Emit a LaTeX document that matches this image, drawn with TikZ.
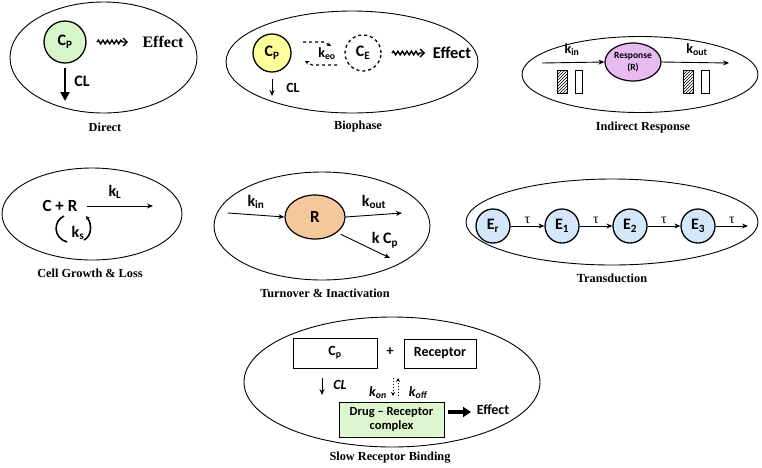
\documentclass[tikz,border=0pt]{standalone}
\usepackage{fontspec}
\setmainfont{Liberation Serif}
\newfontfamily\carl[Ligatures=TeX]{Carlito}
\usetikzlibrary{shapes.geometric,arrows.meta,decorations.pathmorphing,patterns}
\definecolor{dgreen}{RGB}{215,245,200}
\definecolor{byellow}{RGB}{255,255,153}
\definecolor{rviolet}{RGB}{232,186,242}
\definecolor{rtan}{RGB}{245,200,155}
\definecolor{eblue}{RGB}{212,230,250}
\definecolor{cgreen}{RGB}{222,246,208}
\begin{document}
\begin{tikzpicture}[x=1pt,y=-1pt,
  frame/.style={draw, ellipse, line width=0.9pt, inner sep=0pt},
  captxt/.style={font=\bfseries\fontsize{12.3}{14}\selectfont},
  lbl/.style={font=\carl\bfseries\fontsize{14}{16}\selectfont, inner sep=1pt},
  biglbl/.style={font=\carl\bfseries\fontsize{16}{18}\selectfont, inner sep=1pt},
  arr/.style={-{Stealth[length=6pt,width=5pt]}, line width=0.9pt},
  bigarr/.style={-{Triangle[length=9pt,width=9pt]}, line width=2.4pt},
  wavy/.style={-{Straight Barb[length=4pt,width=8pt]}, line width=1.4pt, decorate,
     decoration={snake, amplitude=1.8pt, segment length=4.5pt, post length=5pt}},
  ring/.style={circle, draw, line width=1.3pt, inner sep=0pt},
  bx/.style={draw, line width=0.9pt, inner sep=0pt},
  hatch/.style={draw, line width=0.8pt, pattern=north east lines},
]
\useasboundingbox (0,0) rectangle (762,467);

% ---------------- Direct
\node[frame, minimum width=187pt, minimum height=111pt] (dE) at (103.5,57.5) {};
\node[ring, fill=dgreen, minimum size=42pt, biglbl] (dCp) at (65,42) {C\textsubscript{P}};
\node[font=\bfseries\fontsize{16}{18}\selectfont] (dEff) at (163,42) {Effect};
\coordinate (dw1) at (97,42);
\coordinate (dw2) at (128,42);
\draw[wavy] (dw1) -- (dw2);
\coordinate (dcl) at (65,101);
\draw[bigarr] ([yshift=-4pt]dCp.south) -- (dcl);
\node[biglbl] (dCL) at (82,81) {CL};
\node[captxt] (dcap) at (105,127) {Direct};

% ---------------- Biophase
\node[frame, minimum width=252pt, minimum height=102pt] (bE) at (352,62) {};
\node[ring, fill=byellow, minimum size=38pt, biglbl] (bCp) at (272,53) {C\textsubscript{P}};
\node[circle, draw, dashed, line width=1.3pt, minimum size=36pt, inner sep=0pt, biglbl] (bCe) at (363,53) {C\textsubscript{E}};
\node[lbl] (bk) at (327,54) {k\textsubscript{eo}};
\coordinate (bt1) at (303,42);
\coordinate (bt2) at (324,42);
\coordinate (bt3) at (331,46);
\coordinate (bb1) at (337,65);
\coordinate (bb2) at (312,65);
\coordinate (bb3) at (305,61);
\draw[dashed, line width=1.1pt, -{Stealth[length=4pt,width=4pt]}] (bt1) -- (bt2) -- (bt3);
\draw[dashed, line width=1.1pt, -{Stealth[length=4pt,width=4pt]}] (bb1) -- (bb2) -- (bb3);
\coordinate (bw1) at (392,53);
\coordinate (bw2) at (425,53);
\draw[wavy] (bw1) -- (bw2);
\node[font=\carl\bfseries\fontsize{16.5}{18}\selectfont] (bEff) at (452,53) {Effect};
\coordinate (bc1) at (272,79);
\coordinate (bc2) at (272,96);
\draw[arr] (bc1) -- (bc2);
\node[lbl] (bCL) at (293,88) {CL};
\node[captxt] (bcap) at (358,127) {Biophase};

% ---------------- Indirect Response
\node[frame, minimum width=236pt, minimum height=76pt] (iE) at (640,74.5) {};
\node[ellipse, draw, line width=1.2pt, fill=rviolet, minimum width=56pt, minimum height=38pt, inner sep=0pt,
      font=\carl\bfseries\fontsize{9.5}{11.5}\selectfont, align=center] (iR) at (633,62) {Response\\(R)};
\coordinate (ia) at (542,63);
\coordinate (ib) at (729,63);
\draw[arr] (ia) -- (iR.west);
\draw[arr] (iR.east) -- (ib);
\node[lbl] (ikin) at (572,50) {k\textsubscript{in}};
\node[lbl] (ikout) at (697,50) {k\textsubscript{out}};
\draw[hatch] (557,70) rectangle (567,93);
\draw[bx] (575,70) rectangle (582,93);
\draw[hatch] (683,70) rectangle (693,93);
\draw[bx] (701,70) rectangle (709,93);
\node[captxt] (icap) at (643,128) {Indirect Response};

% ---------------- Cell Growth & Loss
\node[frame, minimum width=180pt, minimum height=92pt] (cE) at (92,214) {};
\node[font=\carl\bfseries\fontsize{17}{19}\selectfont, inner sep=1pt] (cCR) at (60,206) {C + R};
\coordinate (ckl) at (153,206);
\draw[arr] ([xshift=8pt]cCR.east) -- (ckl);
\node[biglbl] (ckL) at (115,192) {k\textsubscript{L}};
\node[biglbl] (cks) at (78,233) {k\textsubscript{s}};
\draw[line width=1.6pt] (64,216) .. controls (53,221) and (53,238) .. (67,242);
\draw[line width=1.6pt, -{Stealth[length=4pt,width=4pt]}] (84,240) .. controls (92,236) and (92,224) .. (86,216);
\node[captxt] (ccap) at (90,273) {Cell Growth \& Loss};

% ---------------- Turnover & Inactivation
\node[frame, minimum width=216pt, minimum height=108pt] (tE) at (322,226) {};
\node[ellipse, draw, line width=1.2pt, fill=rtan, minimum width=60pt, minimum height=44pt, inner sep=0pt,
      font=\carl\bfseries\fontsize{17}{19}\selectfont] (tR) at (315,217) {R};
\coordinate (ta) at (228,213);
\coordinate (tb) at (402,213);
\coordinate (tc) at (390,258);
\draw[arr] (ta) -- (tR.west);
\draw[arr] (tR.east) -- (tb);
\draw[arr, shorten <=4pt] (tR.-35) -- (tc);
\node[biglbl] (tkin) at (256,202) {k\textsubscript{in}};
\node[biglbl] (tkout) at (374,202) {k\textsubscript{out}};
\node[biglbl] (tkcp) at (385,240) {k C\textsubscript{p}};
\node[captxt] (tcap) at (325,293) {Turnover \& Inactivation};

% ---------------- Transduction
\node[frame, minimum width=292pt, minimum height=86pt] (xE) at (612,222) {};
\node[ring, fill=eblue, minimum size=34pt, biglbl] (xEr) at (493,226) {E\textsubscript{r}};
\node[ring, fill=eblue, minimum size=34pt, biglbl] (xE1) at (562,226) {E\textsubscript{1}};
\node[ring, fill=eblue, minimum size=34pt, biglbl] (xE2) at (630,226) {E\textsubscript{2}};
\node[ring, fill=eblue, minimum size=34pt, biglbl] (xE3) at (698,226) {E\textsubscript{3}};
\coordinate (xend) at (748,226);
\draw[arr] (xEr) -- node[above=-1pt, font=\fontsize{14}{16}\selectfont] {τ} (xE1);
\draw[arr] (xE1) -- node[above=-1pt, font=\fontsize{14}{16}\selectfont] {τ} (xE2);
\draw[arr] (xE2) -- node[above=-1pt, font=\fontsize{14}{16}\selectfont] {τ} (xE3);
\draw[arr] (xE3) -- node[above=-1pt, font=\fontsize{14}{16}\selectfont] {τ} (xend);
\node[captxt] (xcap) at (612,278) {Transduction};

% ---------------- Slow Receptor Binding
\node[frame, minimum width=296pt, minimum height=130pt] (sE) at (392,382) {};
\node[bx, minimum width=84pt, minimum height=30pt, lbl] (sCp) at (335,353) {C\textsubscript{p}};
\node[lbl] (splus) at (390,352) {+};
\node[bx, minimum width=72pt, minimum height=29pt, lbl] (sRec) at (440,353.5) {Receptor};
\coordinate (scl1) at (322,378);
\coordinate (scl2) at (322,395);
\draw[arr] (scl1) -- (scl2);
\node[font=\carl\bfseries\itshape\fontsize{14}{16}\selectfont] (sCL) at (340,385) {CL};
\coordinate (sd1) at (393,378);
\coordinate (sd2) at (393,396);
\coordinate (su1) at (398,396);
\coordinate (su2) at (398,378);
\draw[dotted, line width=1pt, -{Stealth[length=4pt,width=4pt]}] (sd1) -- (sd2);
\draw[dotted, line width=1pt, -{Stealth[length=4pt,width=4pt]}] (su1) -- (su2);
\node[font=\carl\bfseries\itshape\fontsize{14}{16}\selectfont] (skon) at (378,393) {k\textsubscript{on}};
\node[font=\carl\bfseries\itshape\fontsize{14}{16}\selectfont] (skoff) at (418,393) {k\textsubscript{off}};
\node[bx, fill=cgreen, minimum width=105pt, minimum height=35pt, align=center,
      font=\carl\bfseries\fontsize{12.5}{14.5}\selectfont] (sDR) at (391.5,419.5) {Drug – Receptor\\complex};
\coordinate (sea) at (471,412);
\draw[-{Triangle[length=8pt,width=10pt]}, line width=3.2pt] ([xshift=4pt]sDR.east |- sea) -- (sea);
\node[lbl] (sEff) at (493,410) {Effect};
\node[captxt] (scap) at (390,458) {Slow Receptor Binding};
\end{tikzpicture}
\end{document}
